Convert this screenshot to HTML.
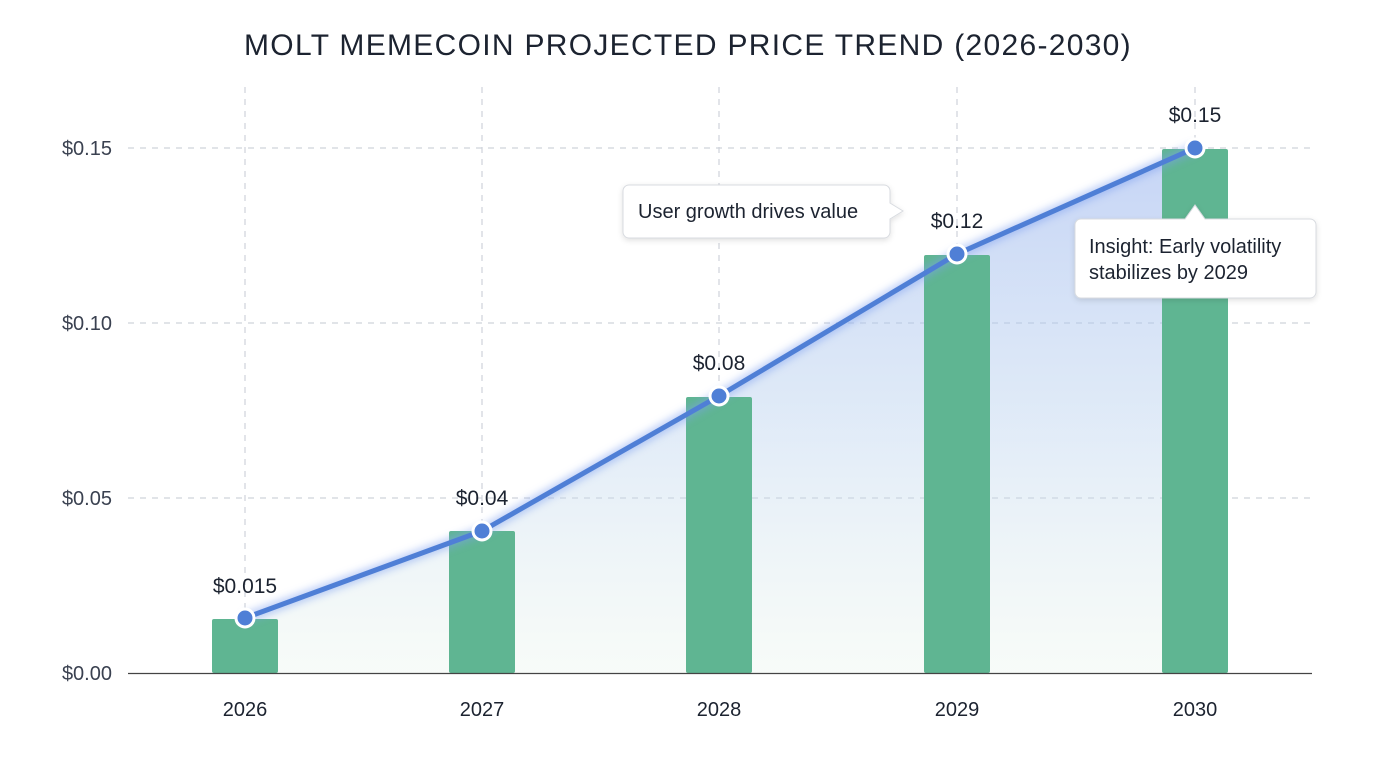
<!DOCTYPE html>
<html><head><meta charset="utf-8"><style>
html,body{margin:0;padding:0;background:#fff;}
svg{display:block;font-family:"Liberation Sans",sans-serif;}
</style></head><body>
<svg width="1376" height="768" viewBox="0 0 1376 768" xmlns="http://www.w3.org/2000/svg">
<defs>
<linearGradient id="ag" x1="0" y1="148" x2="0" y2="673" gradientUnits="userSpaceOnUse">
<stop offset="0" stop-color="#9fb8f0" stop-opacity="0.6"/>
<stop offset="0.5" stop-color="#b8d0ee" stop-opacity="0.45"/>
<stop offset="1" stop-color="#e6f3ea" stop-opacity="0.3"/>
</linearGradient>
<filter id="sh" x="-20%" y="-30%" width="140%" height="160%"><feDropShadow dx="0" dy="2" stdDeviation="3" flood-color="#000" flood-opacity="0.12"/></filter>
<filter id="gl" x="-10%" y="-10%" width="120%" height="120%"><feGaussianBlur stdDeviation="4"/></filter>
</defs>
<text x="688" y="55" text-anchor="middle" font-size="30" fill="#1c2330" letter-spacing="1.3">MOLT MEMECOIN PROJECTED PRICE TREND (2026-2030)</text>
<g stroke="#cfd3da" stroke-width="1.2" stroke-dasharray="6,6">
<line x1="128" y1="148" x2="1312" y2="148"/>
<line x1="128" y1="323" x2="1312" y2="323"/>
<line x1="128" y1="498" x2="1312" y2="498"/>
<line x1="245" y1="87" x2="245" y2="673"/>
<line x1="482" y1="87" x2="482" y2="673"/>
<line x1="719" y1="87" x2="719" y2="673"/>
<line x1="957" y1="87" x2="957" y2="673"/>
<line x1="1195" y1="87" x2="1195" y2="673"/>
</g>
<g font-size="20" fill="#3a4150" text-anchor="end">
<text x="112" y="155">$0.15</text>
<text x="112" y="330">$0.10</text>
<text x="112" y="505">$0.05</text>
<text x="112" y="680">$0.00</text>
</g>
<path d="M245,618 L482,531 L719,396 L957,254 L1195,148 L1195,673 L245,673 Z" fill="url(#ag)"/>
<g fill="#5fb592">
<rect x="212" y="619" width="66" height="54" rx="2"/>
<rect x="449" y="531" width="66" height="142" rx="2"/>
<rect x="686" y="397" width="66" height="276" rx="2"/>
<rect x="924" y="255" width="66" height="418" rx="2"/>
<rect x="1162" y="149" width="66" height="524" rx="2"/>
</g>
<line x1="128" y1="673.5" x2="1312" y2="673.5" stroke="#444" stroke-width="1.3"/>
<polyline points="245,618 482,531 719,396 957,254 1195,148" fill="none" stroke="#7d9ff0" stroke-width="10" opacity="0.5" filter="url(#gl)"/>
<polyline points="245,618 482,531 719,396 957,254 1195,148" fill="none" stroke="#4f7fd6" stroke-width="5" stroke-linejoin="round"/>
<g fill="#4f7fd6" stroke="#fff" stroke-width="3">
<circle cx="245" cy="618" r="9"/><circle cx="482" cy="531" r="9"/><circle cx="719" cy="396" r="9"/><circle cx="957" cy="254" r="9"/><circle cx="1195" cy="148" r="9"/>
</g>
<g font-size="21" fill="#1c2330" text-anchor="middle">
<text x="245" y="593">$0.015</text>
<text x="482" y="505">$0.04</text>
<text x="719" y="370">$0.08</text>
<text x="957" y="228">$0.12</text>
<text x="1195" y="122">$0.15</text>
</g>
<g font-size="20" fill="#1c2330" text-anchor="middle">
<text x="245" y="716">2026</text>
<text x="482" y="716">2027</text>
<text x="719" y="716">2028</text>
<text x="957" y="716">2029</text>
<text x="1195" y="716">2030</text>
</g>
<g filter="url(#sh)">
<path d="M629,185 H884 a6,6 0 0 1 6,6 V203 L903,211 L890,219 V232 a6,6 0 0 1 -6,6 H629 a6,6 0 0 1 -6,-6 V191 a6,6 0 0 1 6,-6 Z" fill="#fff" stroke="#d8dbe0" stroke-width="1"/>
<path d="M1081,219 H1185 L1195,205 L1205,219 H1310 a6,6 0 0 1 6,6 V292 a6,6 0 0 1 -6,6 H1081 a6,6 0 0 1 -6,-6 V225 a6,6 0 0 1 6,-6 Z" fill="#fff" stroke="#d8dbe0" stroke-width="1"/>
</g>
<text x="638" y="218" font-size="20" fill="#1c2330">User growth drives value</text>
<text x="1089" y="253" font-size="20" fill="#1c2330">Insight: Early volatility</text>
<text x="1089" y="279" font-size="20" fill="#1c2330">stabilizes by 2029</text>
</svg>
</body></html>
